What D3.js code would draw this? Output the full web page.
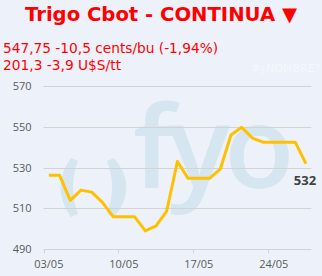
<!DOCTYPE html>
<html><head><meta charset="utf-8">
<script src="https://cdn.jsdelivr.net/npm/d3@7"></script>
<style>html,body{margin:0;padding:0;background:#EDF2FA;}svg{display:block;}</style>
</head><body>
<script>
const dates = ["03/05","04/05","05/05","06/05","07/05","08/05","09/05","10/05","11/05","12/05","13/05","14/05","15/05","16/05","17/05","18/05","19/05","20/05","21/05","22/05","23/05","24/05","25/05","26/05","27/05"];
const prices = [526.25,526.25,514,519,518,513,506,506,506,499,501.5,508.75,533,524.75,524.75,524.75,529.25,546,549.75,544.5,542.5,542.5,542.5,542.5,532];
const xTickLabels = ["03/05","10/05","17/05","24/05"];
const yTicks = [490,510,530,550,570];
const title = "Trigo Cbot - CONTINUA \u25BC";
const subLines = ["547,75 -10,5 cents/bu (-1,94%)","201,3 -3,9 U$S/tt"];
const lastLabel = "532";

const W=322,H=276;
const svg=d3.select("body").append("svg").attr("width",W).attr("height",H);
svg.append("rect").attr("width",W).attr("height",H).attr("fill","#EDF2FA");

const x=d3.scaleBand().domain(dates).range([43.5,311.3]).padding(0);
const y=d3.scaleLinear().domain([490,570]).range([249.3,86]);

// fit a text's font-size so it spans the given width
function fit(sel,target){
  const n=sel.node(); const fs=+sel.attr("font-size"); const w=n.getComputedTextLength();
  if(w>0) sel.attr("font-size",fs*target/w);
}

// watermark
const wm=svg.append("g").attr("fill","#D5E6F0");
wm.append("path").attr("d","M71 158 Q50 187 71 217 L78 214 Q68 187 78 161 Z");
wm.append("path").attr("d","M114 158 Q139 187 114 217 L107 214 Q117 187 107 161 Z");
wm.append("text").attr("x",133).attr("y",188).attr("font-family","Open Sans").attr("font-weight",600)
  .attr("font-size",115).attr("letter-spacing","-6px").text("fyo");

// grid
svg.append("g").selectAll("line").data(yTicks).join("line")
  .attr("x1",43.5).attr("x2",311.3).attr("y1",d=>Math.round(y(d))+0.5).attr("y2",d=>Math.round(y(d))+0.5)
  .attr("stroke","#D3D3D3").attr("stroke-width",1);
svg.append("g").selectAll("text").data(yTicks).join("text")
  .attr("x",31.5).attr("y",d=>y(d)+4).attr("text-anchor","end")
  .attr("font-family","Open Sans").attr("font-size",11).attr("fill","#595959").text(d=>d);

// x ticks
svg.append("g").selectAll("line").data(xTickLabels).join("line")
  .attr("x1",d=>Math.round(x(d))+0.5).attr("x2",d=>Math.round(x(d))+0.5)
  .attr("y1",y(490)).attr("y2",y(490)+4).attr("stroke","#D3D3D3");
svg.append("g").selectAll("text").data(xTickLabels).join("text")
  .attr("x",d=>x(d)+x.bandwidth()/2).attr("y",267.5).attr("text-anchor","middle")
  .attr("font-family","Open Sans").attr("font-size",11).attr("fill","#595959").text(d=>d);

// line
const line=d3.line().x((d,i)=>x(dates[i])+x.bandwidth()/2).y(d=>y(d));
svg.append("path").datum(prices).attr("d",line).attr("fill","none")
  .attr("stroke","#FFC000").attr("stroke-width",3).attr("stroke-linejoin","round");

svg.append("text").attr("x",x(dates[dates.length-1])+x.bandwidth()/2-1).attr("y",y(prices[prices.length-1])+21)
  .attr("text-anchor","middle").attr("font-family","Open Sans").attr("font-weight",700)
  .attr("font-size",13).attr("fill","#404040").text(lastLabel);

// titles
const t=svg.append("text").attr("x",161).attr("y",21).attr("text-anchor","middle")
  .attr("font-family","DejaVu Sans, Verdana, sans-serif").attr("font-weight",700).attr("font-size",19).attr("fill","#FF0000").text(title);
fit(t,272);
const subW=[215,118];
svg.selectAll(".sub").data(subLines).join("text").attr("class","sub")
  .attr("x",3).attr("y",(d,i)=>52.7+i*17.6)
  .attr("font-family","DejaVu Sans, Verdana, sans-serif").attr("font-size",13.7).attr("fill","#FF0000").text(d=>d)
  .each(function(d,i){fit(d3.select(this),subW[i]);});
svg.append("text").attr("x",251).attr("y",72).attr("font-family","DejaVu Sans, sans-serif").attr("font-size",11)
  .attr("fill","#F5F7FC").text("#\u00BFNOMBRE?");
</script>
</body></html>
